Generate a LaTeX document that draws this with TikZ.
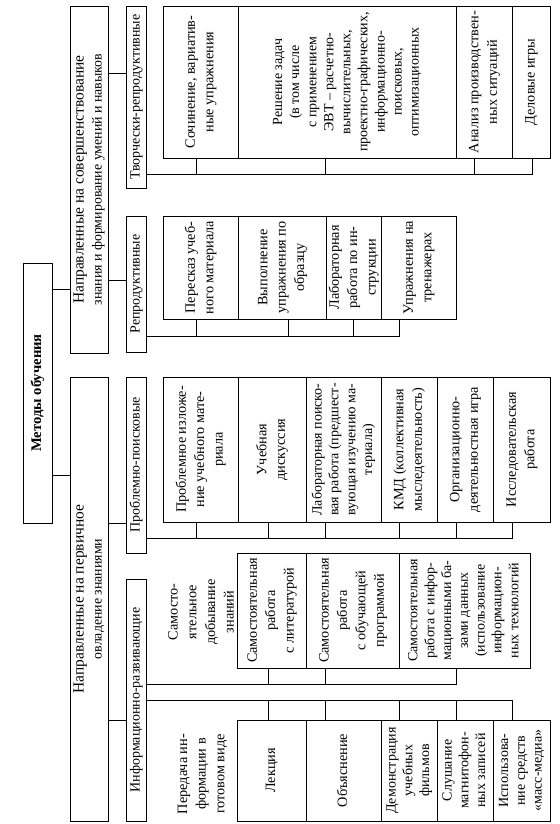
\documentclass[tikz,border=0pt]{standalone}
\usepackage{fontspec}
\setmainfont{Liberation Serif}
\usetikzlibrary{fit}
\newcommand\rt[1]{\makebox[0pt]{\raisebox{-.5\height}[0pt][0pt]{\rotatebox{90}{\begin{tabular}{@{}c@{}}#1\end{tabular}}}}}
\begin{document}
\begin{tikzpicture}[x=0.75pt,y=-0.75pt,
  box/.style={draw, line width=0.6pt, inner sep=0pt, outer sep=0pt},
  rootbox/.style={box, font=\fontsize{11}{14}\selectfont\bfseries},
  lvlone/.style={box, font=\fontsize{11.6}{13.5}\selectfont},
  lvltwo/.style={box, font=\fontsize{10.5}{13.5}\selectfont},
  leaf/.style={box, font=\fontsize{10.7}{13.8}\selectfont},
  dense/.style={box, font=\fontsize{10.5}{12.8}\selectfont},
  narrow/.style={box, font=\fontsize{10.5}{12.6}\selectfont},
  freetext/.style={inner sep=0pt, font=\fontsize{10.7}{14}\selectfont},
  conn/.style={line width=0.6pt}]
\useasboundingbox (0,0) rectangle (560,824);

% root and first level
\node[rootbox, fit={(23,263) (52,523)}] (root) {\rt{Методы обучения}};
\node[lvlone, fit={(70,6) (108,353)}] (n1) {\rt{Направленные на совершенствование\\{\fontsize{10.4}{12}\selectfont знания и формирование умений и навыков}}};
\node[lvlone, fit={(70,377) (108,821)}] (n2) {\rt{Направленные на первичное\\{\fontsize{10.4}{12}\selectfont овладение знаниями}}};

% second level
\node[lvltwo, fit={(126,6) (146,188)}] (tr) {\rt{Творчески-репродуктивные}};
\node[lvltwo, fit={(126,216) (146,352)}] (rep) {\rt{Репродуктивные}};
\node[lvltwo, fit={(126,377) (146,553)}] (prob) {\rt{Проблемно-поисковые}};
\node[lvltwo, fit={(126,579) (146,821)}] (info) {\rt{Информационно-развивающие}};

% group A
\node[leaf, fit={(163,6) (238,158)}] (soch) {\rt{Сочинение, вариатив-\\ные упражнения}};
\node[dense, fit={(238,6) (456,158)}] (resh) {\rt{Решение задач\\(в том числе\\с применением\\ЭВТ – расчетно-\\вычислительных,\\проектно-графических,\\информационно-\\поисковых,\\оптимизационных}};
\node[leaf, fit={(456,6) (512,158)}] (anal) {\rt{Анализ производствен-\\ных ситуаций}};
\node[leaf, fit={(512,6) (550,158)}] (del) {\rt{Деловые игры}};

% group B
\node[leaf, fit={(163,216) (238,319)}] (pere) {\rt{Пересказ учеб-\\ного материала}};
\node[leaf, fit={(238,216) (326,319)}] (vyp) {\rt{Выполнение\\упражнения по\\образцу}};
\node[leaf, fit={(326,216) (381,319)}] (lab) {\rt{Лабораторная\\работа по ин-\\струкции}};
\node[leaf, fit={(381,216) (456,319)}] (upr) {\rt{Упражнения на\\тренажерах}};

% group C
\node[leaf, fit={(163,377) (238,522)}] (probl) {\rt{Проблемное изложе-\\ние учебного мате-\\риала}};
\node[leaf, fit={(238,377) (306,522)}] (disc) {\rt{Учебная\\дискуссия}};
\node[narrow, fit={(306,377) (381,522)}] (labp) {\rt{Лабораторная поиско-\\вая работа (предшест-\\вующая изучению ма-\\териала)}};
\node[leaf, fit={(381,377) (437,522)}] (kmd) {\rt{КМД (коллективная\\мыследеятельность)}};
\node[leaf, fit={(437,377) (493,522)}] (org) {\rt{Организационно-\\деятельностная игра}};
\node[leaf, fit={(493,377) (550,522)}] (issl) {\rt{Исследовательская\\работа}};

% group D upper
\node[freetext] (samt) at (202,612) {\rt{Самосто-\\ятельное\\добывание\\знаний}};
\node[leaf, fit={(237,553) (306,668)}] (lit) {\rt{Самостоятельная\\работа\\с литературой}};
\node[leaf, fit={(306,553) (399,668)}] (prog) {\rt{Самостоятельная\\работа\\с обучающей\\программой}};
\node[narrow, fit={(399,553) (530,668)}] (bd) {\rt{Самостоятельная\\работа с инфор-\\мационными ба-\\зами данных\\(использование\\информацион-\\ных технологий}};

% group D lower
\node[freetext] (pert) at (202,774) {\rt{Передача ин-\\формации в\\готовом виде}};
\node[leaf, fit={(237,720) (306,821)}] (lek) {\rt{Лекция}};
\node[leaf, fit={(306,720) (381,821)}] (obj) {\rt{Объяснение}};
\node[narrow, fit={(381,720) (437,821)}] (dem) {\rt{Демонстрация\\учебных\\фильмов}};
\node[narrow, fit={(437,720) (493,821)}] (slu) {\rt{Слушание\\магнитофон-\\ных записей}};
\node[narrow, fit={(493,720) (550,821)}] (isp) {\rt{Использова-\\ние средств\\«масс-медиа»}};

% level connectors
\coordinate (r1) at (0,289);
\coordinate (r2) at (0,475);
\coordinate (s1) at (0,73);
\coordinate (s2) at (0,280);
\coordinate (s3) at (0,523);
\coordinate (s4) at (0,720);
\draw[conn] (root.east |- r1) -- (n1.west |- r1);
\draw[conn] (root.east |- r2) -- (n2.west |- r2);
\draw[conn] (n1.east |- s1) -- (tr.west |- s1);
\draw[conn] (n1.east |- s2) -- (rep.west |- s2);
\draw[conn] (n2.east |- s3) -- (prob.west |- s3);
\draw[conn] (n2.east |- s4) -- (info.west |- s4);

% group A bus
\coordinate (a1) at (196,174);
\coordinate (a2) at (325,174);
\coordinate (a3) at (474,174);
\coordinate (a4) at (532,174);
\draw[conn] (tr.east |- a4) -- (a4) -- (del.south -| a4);
\draw[conn] (a1) -- (soch.south -| a1);
\draw[conn] (a2) -- (resh.south -| a2);
\draw[conn] (a3) -- (anal.south -| a3);

% group B bus
\coordinate (b1) at (196,336);
\coordinate (b2) at (288,336);
\coordinate (b3) at (353,336);
\coordinate (b4) at (399,336);
\draw[conn] (rep.east |- b4) -- (b4) -- (upr.south -| b4);
\draw[conn] (b1) -- (pere.south -| b1);
\draw[conn] (b2) -- (vyp.south -| b2);
\draw[conn] (b3) -- (lab.south -| b3);

% group C bus
\coordinate (c1) at (196,538);
\coordinate (c2) at (268,538);
\coordinate (c3) at (325,538);
\coordinate (c4) at (399,538);
\coordinate (c5) at (456,538);
\coordinate (c6) at (512,538);
\draw[conn] (prob.east |- c6) -- (c6) -- (issl.south -| c6);
\draw[conn] (c1) -- (probl.south -| c1);
\draw[conn] (c2) -- (disc.south -| c2);
\draw[conn] (c3) -- (labp.south -| c3);
\draw[conn] (c4) -- (kmd.south -| c4);
\draw[conn] (c5) -- (org.south -| c5);

% group D upper bus
\coordinate (d1) at (268,684);
\coordinate (d2) at (325,684);
\coordinate (d3) at (456,684);
\draw[conn] (info.east |- d3) -- (d3) -- (bd.south -| d3);
\draw[conn] (d1) -- (lit.south -| d1);
\draw[conn] (d2) -- (prog.south -| d2);

% group D lower bus
\coordinate (e1) at (268,700);
\coordinate (e2) at (325,700);
\coordinate (e3) at (399,700);
\coordinate (e4) at (456,700);
\coordinate (e5) at (512,700);
\draw[conn] (info.east |- e5) -- (e5) -- (isp.north -| e5);
\draw[conn] (e1) -- (lek.north -| e1);
\draw[conn] (e2) -- (obj.north -| e2);
\draw[conn] (e3) -- (dem.north -| e3);
\draw[conn] (e4) -- (slu.north -| e4);
\end{tikzpicture}
\end{document}
